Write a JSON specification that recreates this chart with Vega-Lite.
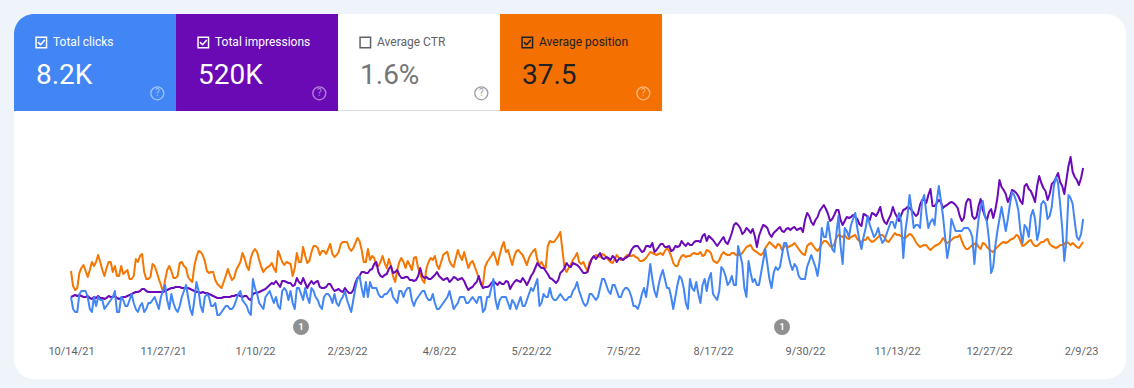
{
"$schema":"https://vega.github.io/schema/vega-lite/v6.json",
"width":1112,"height":365,
"autosize":{"type":"none"},
"padding":{"left":14,"top":14,"right":8,"bottom":9},
"background":"#eff3fa",
"config":{"view":{"stroke":null,"fill":"#ffffff","cornerRadius":20},"font":"Roboto"},
"datasets":{
"tiles":[{"m":"Total clicks","v":"8.2K"},{"m":"Total impressions","v":"520K"},{"m":"Average CTR","v":"1.6%"},{"m":"Average position","v":"37.5"}],
"notes":[{"d":"2022-02-01","n":"1"},{"d":"2022-09-19","n":"1"}],
"ts":[
{"d":"2021-10-14","c":11,"i":480,"p":41.5},{"d":"2021-10-15","c":7,"i":490,"p":45.25},{"d":"2021-10-16","c":6,"i":500,"p":46.25},{"d":"2021-10-17","c":6,"i":490,"p":45.75},{"d":"2021-10-18","c":12,"i":500,"p":42},{"d":"2021-10-19","c":13,"i":490,"p":40.75},{"d":"2021-10-20","c":13,"i":480,"p":40},
{"d":"2021-10-21","c":13,"i":480,"p":41.5},{"d":"2021-10-22","c":11,"i":490,"p":43},{"d":"2021-10-23","c":7,"i":470,"p":41.25},{"d":"2021-10-24","c":6,"i":460,"p":39.25},{"d":"2021-10-25","c":11,"i":480,"p":40.25},{"d":"2021-10-26","c":8,"i":470,"p":39.25},{"d":"2021-10-27","c":11,"i":490,"p":37.5},
{"d":"2021-10-28","c":10,"i":470,"p":39.25},{"d":"2021-10-29","c":10,"i":470,"p":41.25},{"d":"2021-10-30","c":7,"i":460,"p":42.75},{"d":"2021-10-31","c":8,"i":470,"p":40.75},{"d":"2021-11-01","c":9,"i":490,"p":39.25},{"d":"2021-11-02","c":10,"i":480,"p":39.25},{"d":"2021-11-03","c":11,"i":480,"p":41.75},
{"d":"2021-11-04","c":13,"i":490,"p":40.25},{"d":"2021-11-05","c":6,"i":470,"p":42.75},{"d":"2021-11-06","c":6,"i":460,"p":42.75},{"d":"2021-11-07","c":11,"i":470,"p":40.25},{"d":"2021-11-08","c":10,"i":480,"p":42.25},{"d":"2021-11-09","c":8,"i":480,"p":41.75},{"d":"2021-11-10","c":8,"i":490,"p":41.25},
{"d":"2021-11-11","c":10,"i":500,"p":43.5},{"d":"2021-11-12","c":12,"i":510,"p":43.5},{"d":"2021-11-13","c":9,"i":520,"p":42.75},{"d":"2021-11-14","c":7,"i":530,"p":38.5},{"d":"2021-11-15","c":6,"i":530,"p":39.25},{"d":"2021-11-16","c":8,"i":540,"p":37.75},{"d":"2021-11-17","c":9,"i":560,"p":37.25},
{"d":"2021-11-18","c":6,"i":560,"p":41.75},{"d":"2021-11-19","c":7,"i":540,"p":43.5},{"d":"2021-11-20","c":9,"i":530,"p":43.5},{"d":"2021-11-21","c":9,"i":530,"p":43},{"d":"2021-11-22","c":10,"i":530,"p":39.75},{"d":"2021-11-23","c":11,"i":530,"p":40.25},{"d":"2021-11-24","c":9,"i":530,"p":41.75},
{"d":"2021-11-25","c":7,"i":530,"p":43.5},{"d":"2021-11-26","c":11,"i":530,"p":45},{"d":"2021-11-27","c":13,"i":530,"p":46.75},{"d":"2021-11-28","c":15,"i":540,"p":43.75},{"d":"2021-11-29","c":10,"i":550,"p":41.25},{"d":"2021-11-30","c":7,"i":560,"p":40.25},{"d":"2021-12-01","c":12,"i":570,"p":41.5},
{"d":"2021-12-02","c":9,"i":570,"p":43.25},{"d":"2021-12-03","c":7,"i":580,"p":43.25},{"d":"2021-12-04","c":6,"i":580,"p":42.75},{"d":"2021-12-05","c":8,"i":580,"p":39.5},{"d":"2021-12-06","c":11,"i":570,"p":39.25},{"d":"2021-12-07","c":13,"i":570,"p":40.25},{"d":"2021-12-08","c":15,"i":570,"p":40.75},
{"d":"2021-12-09","c":11,"i":570,"p":43},{"d":"2021-12-10","c":7,"i":560,"p":43.75},{"d":"2021-12-11","c":5,"i":550,"p":44.25},{"d":"2021-12-12","c":10,"i":540,"p":40.25},{"d":"2021-12-13","c":16,"i":530,"p":38},{"d":"2021-12-14","c":13,"i":530,"p":36.5},{"d":"2021-12-15","c":8,"i":520,"p":36.75},
{"d":"2021-12-16","c":6,"i":530,"p":37.5},{"d":"2021-12-17","c":11,"i":520,"p":39},{"d":"2021-12-18","c":12,"i":520,"p":41.5},{"d":"2021-12-19","c":11,"i":510,"p":42},{"d":"2021-12-20","c":8,"i":500,"p":41.75},{"d":"2021-12-21","c":8,"i":490,"p":41.75},{"d":"2021-12-22","c":9,"i":480,"p":43.75},
{"d":"2021-12-23","c":5,"i":470,"p":44.75},{"d":"2021-12-24","c":5,"i":470,"p":45.25},{"d":"2021-12-25","c":6,"i":470,"p":45.75},{"d":"2021-12-26","c":7,"i":480,"p":44.25},{"d":"2021-12-27","c":8,"i":480,"p":42.75},{"d":"2021-12-28","c":8,"i":480,"p":41},{"d":"2021-12-29","c":7,"i":480,"p":42.5},
{"d":"2021-12-30","c":7,"i":490,"p":43.75},{"d":"2021-12-31","c":8,"i":490,"p":43.25},{"d":"2022-01-01","c":10,"i":500,"p":41.25},{"d":"2022-01-02","c":12,"i":500,"p":40.25},{"d":"2022-01-03","c":13,"i":490,"p":39.25},{"d":"2022-01-04","c":10,"i":480,"p":37},{"d":"2022-01-05","c":9,"i":490,"p":38.25},
{"d":"2022-01-06","c":8,"i":490,"p":40.25},{"d":"2022-01-07","c":6,"i":460,"p":41.25},{"d":"2022-01-08","c":5,"i":450,"p":38.25},{"d":"2022-01-09","c":17,"i":510,"p":36.75},{"d":"2022-01-10","c":14,"i":520,"p":36},{"d":"2022-01-11","c":12,"i":520,"p":36.75},{"d":"2022-01-12","c":9,"i":530,"p":38.75},
{"d":"2022-01-13","c":8,"i":540,"p":40.5},{"d":"2022-01-14","c":7,"i":550,"p":41.75},{"d":"2022-01-15","c":11,"i":560,"p":41},{"d":"2022-01-16","c":12,"i":580,"p":40.5},{"d":"2022-01-17","c":13,"i":600,"p":40.25},{"d":"2022-01-18","c":11,"i":620,"p":39.5},{"d":"2022-01-19","c":9,"i":610,"p":40.75},
{"d":"2022-01-20","c":11,"i":640,"p":41.75},{"d":"2022-01-21","c":8,"i":610,"p":36.5},{"d":"2022-01-22","c":7,"i":580,"p":37.75},{"d":"2022-01-23","c":13,"i":640,"p":39.25},{"d":"2022-01-24","c":14,"i":640,"p":40},{"d":"2022-01-25","c":13,"i":630,"p":39.25},{"d":"2022-01-26","c":10,"i":620,"p":39.5},
{"d":"2022-01-27","c":13,"i":620,"p":39.75},{"d":"2022-01-28","c":9,"i":590,"p":42.75},{"d":"2022-01-29","c":7,"i":600,"p":40.75},{"d":"2022-01-30","c":14,"i":670,"p":37},{"d":"2022-01-31","c":14,"i":630,"p":39.25},{"d":"2022-02-01","c":12,"i":610,"p":39.25},{"d":"2022-02-02","c":10,"i":670,"p":35.5},
{"d":"2022-02-03","c":14,"i":620,"p":37.75},{"d":"2022-02-04","c":11,"i":570,"p":39.5},{"d":"2022-02-05","c":9,"i":610,"p":39},{"d":"2022-02-06","c":14,"i":640,"p":36.75},{"d":"2022-02-07","c":13,"i":610,"p":35.25},{"d":"2022-02-08","c":11,"i":630,"p":35.25},{"d":"2022-02-09","c":10,"i":640,"p":35.75},
{"d":"2022-02-10","c":8,"i":580,"p":37.5},{"d":"2022-02-11","c":7,"i":570,"p":36.5},{"d":"2022-02-12","c":11,"i":570,"p":36.5},{"d":"2022-02-13","c":12,"i":580,"p":37.25},{"d":"2022-02-14","c":12,"i":610,"p":36},{"d":"2022-02-15","c":11,"i":610,"p":34.75},{"d":"2022-02-16","c":9,"i":570,"p":37.25},
{"d":"2022-02-17","c":12,"i":540,"p":38},{"d":"2022-02-18","c":9,"i":550,"p":37.5},{"d":"2022-02-19","c":8,"i":560,"p":36.75},{"d":"2022-02-20","c":10,"i":540,"p":34.75},{"d":"2022-02-21","c":11,"i":530,"p":34.25},{"d":"2022-02-22","c":13,"i":570,"p":34.25},{"d":"2022-02-23","c":10,"i":540,"p":34.25},
{"d":"2022-02-24","c":8,"i":520,"p":35.75},{"d":"2022-02-25","c":6,"i":520,"p":36.5},{"d":"2022-02-26","c":10,"i":550,"p":35.75},{"d":"2022-02-27","c":14,"i":620,"p":34.5},{"d":"2022-02-28","c":17,"i":670,"p":33.25},{"d":"2022-03-01","c":18,"i":690,"p":34},{"d":"2022-03-02","c":14,"i":730,"p":36.25},
{"d":"2022-03-03","c":11,"i":730,"p":39.25},{"d":"2022-03-04","c":16,"i":720,"p":39.25},{"d":"2022-03-05","c":11,"i":720,"p":36},{"d":"2022-03-06","c":16,"i":750,"p":38.75},{"d":"2022-03-07","c":14,"i":760,"p":37.75},{"d":"2022-03-08","c":14,"i":810,"p":38.25},{"d":"2022-03-09","c":14,"i":830,"p":40.25},
{"d":"2022-03-10","c":12,"i":730,"p":40.25},{"d":"2022-03-11","c":11,"i":690,"p":39.25},{"d":"2022-03-12","c":11,"i":680,"p":37.75},{"d":"2022-03-13","c":12,"i":700,"p":39.5},{"d":"2022-03-14","c":12,"i":710,"p":40.75},{"d":"2022-03-15","c":13,"i":760,"p":38.5},{"d":"2022-03-16","c":14,"i":790,"p":40.25},
{"d":"2022-03-17","c":11,"i":720,"p":42.75},{"d":"2022-03-18","c":10,"i":730,"p":44.25},{"d":"2022-03-19","c":9,"i":750,"p":41.25},{"d":"2022-03-20","c":13,"i":700,"p":39.25},{"d":"2022-03-21","c":13,"i":670,"p":38.25},{"d":"2022-03-22","c":11,"i":670,"p":39.25},{"d":"2022-03-23","c":13,"i":680,"p":40.75},
{"d":"2022-03-24","c":14,"i":680,"p":39},{"d":"2022-03-25","c":14,"i":650,"p":40},{"d":"2022-03-26","c":10,"i":650,"p":41.25},{"d":"2022-03-27","c":8,"i":640,"p":38.25},{"d":"2022-03-28","c":10,"i":650,"p":38},{"d":"2022-03-29","c":11,"i":690,"p":40.75},{"d":"2022-03-30","c":12,"i":770,"p":42.25},
{"d":"2022-03-31","c":13,"i":690,"p":43.75},{"d":"2022-04-01","c":13,"i":670,"p":44.5},{"d":"2022-04-02","c":11,"i":680,"p":40.75},{"d":"2022-04-03","c":10,"i":660,"p":39.25},{"d":"2022-04-04","c":10,"i":660,"p":38.25},{"d":"2022-04-05","c":12,"i":680,"p":38.75},{"d":"2022-04-06","c":9,"i":700,"p":37.75},
{"d":"2022-04-07","c":7,"i":730,"p":40},{"d":"2022-04-08","c":7,"i":690,"p":41},{"d":"2022-04-09","c":8,"i":670,"p":39.25},{"d":"2022-04-10","c":9,"i":650,"p":37.5},{"d":"2022-04-11","c":10,"i":660,"p":37},{"d":"2022-04-12","c":11,"i":670,"p":36.75},{"d":"2022-04-13","c":13,"i":630,"p":39},
{"d":"2022-04-14","c":10,"i":650,"p":40},{"d":"2022-04-15","c":7,"i":680,"p":40.5},{"d":"2022-04-16","c":8,"i":670,"p":38.25},{"d":"2022-04-17","c":9,"i":650,"p":36.25},{"d":"2022-04-18","c":11,"i":660,"p":37.75},{"d":"2022-04-19","c":11,"i":670,"p":38.75},{"d":"2022-04-20","c":11,"i":640,"p":36.75},
{"d":"2022-04-21","c":9,"i":590,"p":38.75},{"d":"2022-04-22","c":9,"i":550,"p":40.75},{"d":"2022-04-23","c":10,"i":570,"p":39.5},{"d":"2022-04-24","c":11,"i":580,"p":39},{"d":"2022-04-25","c":10,"i":610,"p":40.25},{"d":"2022-04-26","c":9,"i":630,"p":41.75},{"d":"2022-04-27","c":11,"i":690,"p":43.25},
{"d":"2022-04-28","c":11,"i":610,"p":44.25},{"d":"2022-04-29","c":6,"i":570,"p":45},{"d":"2022-04-30","c":7,"i":580,"p":40.5},{"d":"2022-05-01","c":11,"i":580,"p":39.25},{"d":"2022-05-02","c":11,"i":590,"p":38.5},{"d":"2022-05-03","c":14,"i":620,"p":37.75},{"d":"2022-05-04","c":17,"i":640,"p":36.75},
{"d":"2022-05-05","c":10,"i":620,"p":38.25},{"d":"2022-05-06","c":7,"i":600,"p":40},{"d":"2022-05-07","c":10,"i":630,"p":37.5},{"d":"2022-05-08","c":11,"i":610,"p":35.5},{"d":"2022-05-09","c":11,"i":610,"p":34.25},{"d":"2022-05-10","c":11,"i":640,"p":36.75},{"d":"2022-05-11","c":9,"i":630,"p":36.25},
{"d":"2022-05-12","c":7,"i":560,"p":38.25},{"d":"2022-05-13","c":10,"i":600,"p":40},{"d":"2022-05-14","c":9,"i":630,"p":37.75},{"d":"2022-05-15","c":7,"i":650,"p":36.5},{"d":"2022-05-16","c":9,"i":640,"p":36.25},{"d":"2022-05-17","c":11,"i":630,"p":37},{"d":"2022-05-18","c":8,"i":670,"p":37.5},
{"d":"2022-05-19","c":8,"i":640,"p":38.75},{"d":"2022-05-20","c":10,"i":600,"p":40},{"d":"2022-05-21","c":12,"i":640,"p":38.25},{"d":"2022-05-22","c":14,"i":690,"p":37.25},{"d":"2022-05-23","c":13,"i":720,"p":36.5},{"d":"2022-05-24","c":15,"i":770,"p":36},{"d":"2022-05-25","c":17,"i":820,"p":38.75},
{"d":"2022-05-26","c":8,"i":790,"p":40},{"d":"2022-05-27","c":9,"i":770,"p":39.25},{"d":"2022-05-28","c":12,"i":770,"p":40.25},{"d":"2022-05-29","c":11,"i":740,"p":40.75},{"d":"2022-05-30","c":11,"i":710,"p":35.25},{"d":"2022-05-31","c":14,"i":670,"p":34},{"d":"2022-06-01","c":11,"i":660,"p":34.25},
{"d":"2022-06-02","c":10,"i":640,"p":34.25},{"d":"2022-06-03","c":10,"i":620,"p":33.5},{"d":"2022-06-04","c":11,"i":650,"p":32.75},{"d":"2022-06-05","c":12,"i":720,"p":31.75},{"d":"2022-06-06","c":11,"i":740,"p":36.25},{"d":"2022-06-07","c":10,"i":770,"p":40.75},{"d":"2022-06-08","c":10,"i":820,"p":41.75},
{"d":"2022-06-09","c":11,"i":790,"p":40.75},{"d":"2022-06-10","c":11,"i":780,"p":40},{"d":"2022-06-11","c":13,"i":820,"p":38.75},{"d":"2022-06-12","c":14,"i":810,"p":38},{"d":"2022-06-13","c":16,"i":800,"p":37},{"d":"2022-06-14","c":13,"i":780,"p":39.25},{"d":"2022-06-15","c":11,"i":750,"p":39.75},
{"d":"2022-06-16","c":9,"i":720,"p":39.25},{"d":"2022-06-17","c":8,"i":720,"p":40.5},{"d":"2022-06-18","c":9,"i":730,"p":41.5},{"d":"2022-06-19","c":12,"i":800,"p":39.25},{"d":"2022-06-20","c":12,"i":860,"p":38.5},{"d":"2022-06-21","c":11,"i":890,"p":38},{"d":"2022-06-22","c":10,"i":860,"p":37.5},
{"d":"2022-06-23","c":11,"i":890,"p":37.75},{"d":"2022-06-24","c":14,"i":920,"p":38},{"d":"2022-06-25","c":17,"i":870,"p":37.25},{"d":"2022-06-26","c":17,"i":860,"p":37.5},{"d":"2022-06-27","c":15,"i":880,"p":38},{"d":"2022-06-28","c":13,"i":870,"p":38.75},{"d":"2022-06-29","c":12,"i":850,"p":39.25},
{"d":"2022-06-30","c":15,"i":890,"p":39.5},{"d":"2022-07-01","c":15,"i":870,"p":38.5},{"d":"2022-07-02","c":13,"i":830,"p":37.5},{"d":"2022-07-03","c":11,"i":860,"p":38.25},{"d":"2022-07-04","c":11,"i":870,"p":38.75},{"d":"2022-07-05","c":13,"i":850,"p":38.75},{"d":"2022-07-06","c":14,"i":870,"p":38},
{"d":"2022-07-07","c":14,"i":880,"p":37.5},{"d":"2022-07-08","c":13,"i":900,"p":37.75},{"d":"2022-07-09","c":11,"i":950,"p":37.75},{"d":"2022-07-10","c":8,"i":980,"p":37.5},{"d":"2022-07-11","c":8,"i":990,"p":38},{"d":"2022-07-12","c":7,"i":990,"p":38.25},{"d":"2022-07-13","c":9,"i":960,"p":39},
{"d":"2022-07-14","c":12,"i":930,"p":39},{"d":"2022-07-15","c":14,"i":940,"p":38.75},{"d":"2022-07-16","c":11,"i":990,"p":38.25},{"d":"2022-07-17","c":16,"i":990,"p":37.5},{"d":"2022-07-18","c":22,"i":980,"p":36.75},{"d":"2022-07-19","c":17,"i":1020,"p":37},{"d":"2022-07-20","c":13,"i":930,"p":37.25},
{"d":"2022-07-21","c":11,"i":950,"p":37.5},{"d":"2022-07-22","c":15,"i":980,"p":37.25},{"d":"2022-07-23","c":18,"i":1010,"p":37},{"d":"2022-07-24","c":20,"i":1010,"p":37.5},{"d":"2022-07-25","c":17,"i":980,"p":36.5},{"d":"2022-07-26","c":14,"i":980,"p":35.75},{"d":"2022-07-27","c":14,"i":990,"p":36.5},
{"d":"2022-07-28","c":11,"i":940,"p":37.75},{"d":"2022-07-29","c":7,"i":950,"p":39.5},{"d":"2022-07-30","c":11,"i":990,"p":40.25},{"d":"2022-07-31","c":15,"i":980,"p":40.25},{"d":"2022-08-01","c":18,"i":990,"p":38.75},{"d":"2022-08-02","c":17,"i":1040,"p":37.75},{"d":"2022-08-03","c":14,"i":1010,"p":37.5},
{"d":"2022-08-04","c":9,"i":990,"p":38},{"d":"2022-08-05","c":7,"i":1020,"p":37.75},{"d":"2022-08-06","c":17,"i":1000,"p":37.75},{"d":"2022-08-07","c":14,"i":1000,"p":37.25},{"d":"2022-08-08","c":13,"i":1030,"p":37},{"d":"2022-08-09","c":16,"i":1040,"p":37.25},{"d":"2022-08-10","c":12,"i":1040,"p":37.25},
{"d":"2022-08-11","c":9,"i":1030,"p":36.75},{"d":"2022-08-12","c":15,"i":1090,"p":37.75},{"d":"2022-08-13","c":17,"i":1110,"p":37.5},{"d":"2022-08-14","c":13,"i":1040,"p":36.25},{"d":"2022-08-15","c":17,"i":1090,"p":36.5},{"d":"2022-08-16","c":19,"i":1070,"p":37},{"d":"2022-08-17","c":12,"i":1050,"p":38.75},
{"d":"2022-08-18","c":11,"i":1020,"p":39.25},{"d":"2022-08-19","c":10,"i":990,"p":39.5},{"d":"2022-08-20","c":13,"i":1020,"p":38.75},{"d":"2022-08-21","c":21,"i":1050,"p":37.5},{"d":"2022-08-22","c":20,"i":1080,"p":36.75},{"d":"2022-08-23","c":18,"i":1030,"p":37.25},{"d":"2022-08-24","c":15,"i":1010,"p":37.5},
{"d":"2022-08-25","c":16,"i":1060,"p":37.5},{"d":"2022-08-26","c":18,"i":1120,"p":37},{"d":"2022-08-27","c":15,"i":1200,"p":37},{"d":"2022-08-28","c":15,"i":1220,"p":37.5},{"d":"2022-08-29","c":28,"i":1200,"p":37.5},{"d":"2022-08-30","c":25,"i":1170,"p":37.5},{"d":"2022-08-31","c":22,"i":1110,"p":37},
{"d":"2022-09-01","c":14,"i":1130,"p":36.25},{"d":"2022-09-02","c":11,"i":1170,"p":35.5},{"d":"2022-09-03","c":23,"i":1150,"p":35.25},{"d":"2022-09-04","c":19,"i":1120,"p":35},{"d":"2022-09-05","c":16,"i":1160,"p":36},{"d":"2022-09-06","c":17,"i":1090,"p":36.5},{"d":"2022-09-07","c":15,"i":980,"p":36.75},
{"d":"2022-09-08","c":15,"i":1090,"p":37.25},{"d":"2022-09-09","c":19,"i":1150,"p":37.5},{"d":"2022-09-10","c":23,"i":1200,"p":37},{"d":"2022-09-11","c":27,"i":1190,"p":35.75},{"d":"2022-09-12","c":22,"i":1170,"p":35},{"d":"2022-09-13","c":17,"i":1110,"p":34.25},{"d":"2022-09-14","c":14,"i":1080,"p":34.75},
{"d":"2022-09-15","c":19,"i":1120,"p":35.25},{"d":"2022-09-16","c":21,"i":1140,"p":35.75},{"d":"2022-09-17","c":20,"i":1160,"p":34.75},{"d":"2022-09-18","c":21,"i":1180,"p":35},{"d":"2022-09-19","c":25,"i":1140,"p":36.25},{"d":"2022-09-20","c":29,"i":1130,"p":35.5},{"d":"2022-09-21","c":29,"i":1160,"p":35},
{"d":"2022-09-22","c":25,"i":1170,"p":35.5},{"d":"2022-09-23","c":22,"i":1150,"p":35.25},{"d":"2022-09-24","c":20,"i":1170,"p":35},{"d":"2022-09-25","c":22,"i":1180,"p":34.5},{"d":"2022-09-26","c":21,"i":1150,"p":35.25},{"d":"2022-09-27","c":18,"i":1160,"p":36},{"d":"2022-09-28","c":17,"i":1170,"p":36.75},
{"d":"2022-09-29","c":17,"i":1130,"p":37.25},{"d":"2022-09-30","c":17,"i":1250,"p":37.5},{"d":"2022-10-01","c":21,"i":1320,"p":35.25},{"d":"2022-10-02","c":23,"i":1290,"p":34.75},{"d":"2022-10-03","c":25,"i":1230,"p":34.5},{"d":"2022-10-04","c":23,"i":1200,"p":35.25},{"d":"2022-10-05","c":21,"i":1250,"p":36},
{"d":"2022-10-06","c":18,"i":1280,"p":36.5},{"d":"2022-10-07","c":23,"i":1340,"p":35.75},{"d":"2022-10-08","c":34,"i":1370,"p":34.75},{"d":"2022-10-09","c":31,"i":1400,"p":34},{"d":"2022-10-10","c":31,"i":1360,"p":34},{"d":"2022-10-11","c":36,"i":1310,"p":34.5},{"d":"2022-10-12","c":31,"i":1240,"p":35.25},
{"d":"2022-10-13","c":27,"i":1260,"p":35.5},{"d":"2022-10-14","c":26,"i":1300,"p":34.75},{"d":"2022-10-15","c":32,"i":1350,"p":33.25},{"d":"2022-10-16","c":38,"i":1350,"p":32.5},{"d":"2022-10-17","c":28,"i":1250,"p":32.75},{"d":"2022-10-18","c":22,"i":1200,"p":33},{"d":"2022-10-19","c":34,"i":1240,"p":32.5},
{"d":"2022-10-20","c":33,"i":1280,"p":33.25},{"d":"2022-10-21","c":31,"i":1270,"p":33.5},{"d":"2022-10-22","c":35,"i":1280,"p":33},{"d":"2022-10-23","c":37,"i":1300,"p":32.75},{"d":"2022-10-24","c":39,"i":1280,"p":32.5},{"d":"2022-10-25","c":34,"i":1260,"p":33.5},{"d":"2022-10-26","c":30,"i":1210,"p":34},
{"d":"2022-10-27","c":27,"i":1190,"p":34.25},{"d":"2022-10-28","c":31,"i":1310,"p":33.75},{"d":"2022-10-29","c":34,"i":1300,"p":33.75},{"d":"2022-10-30","c":38,"i":1280,"p":33},{"d":"2022-10-31","c":35,"i":1250,"p":33.75},{"d":"2022-11-01","c":33,"i":1320,"p":34.25},{"d":"2022-11-02","c":31,"i":1310,"p":34},
{"d":"2022-11-03","c":32,"i":1290,"p":33.5},{"d":"2022-11-04","c":34,"i":1330,"p":33},{"d":"2022-11-05","c":31,"i":1380,"p":32.5},{"d":"2022-11-06","c":29,"i":1280,"p":32.5},{"d":"2022-11-07","c":30,"i":1230,"p":33},{"d":"2022-11-08","c":32,"i":1210,"p":34},{"d":"2022-11-09","c":34,"i":1260,"p":34.25},
{"d":"2022-11-10","c":36,"i":1300,"p":33.5},{"d":"2022-11-11","c":36,"i":1380,"p":32.75},{"d":"2022-11-12","c":34,"i":1320,"p":32},{"d":"2022-11-13","c":37,"i":1280,"p":32.5},{"d":"2022-11-14","c":39,"i":1240,"p":32.5},{"d":"2022-11-15","c":36,"i":1300,"p":32.75},{"d":"2022-11-16","c":24,"i":1350,"p":33.25},
{"d":"2022-11-17","c":33,"i":1360,"p":33.25},{"d":"2022-11-18","c":38,"i":1380,"p":32.75},{"d":"2022-11-19","c":45,"i":1370,"p":32.25},{"d":"2022-11-20","c":40,"i":1350,"p":32.5},{"d":"2022-11-21","c":34,"i":1320,"p":33.25},{"d":"2022-11-22","c":35,"i":1290,"p":34.25},{"d":"2022-11-23","c":35,"i":1310,"p":35},
{"d":"2022-11-24","c":34,"i":1400,"p":35.5},{"d":"2022-11-25","c":43,"i":1450,"p":35.25},{"d":"2022-11-26","c":45,"i":1450,"p":35},{"d":"2022-11-27","c":39,"i":1420,"p":35},{"d":"2022-11-28","c":34,"i":1500,"p":35.75},{"d":"2022-11-29","c":36,"i":1560,"p":36.25},{"d":"2022-11-30","c":37,"i":1390,"p":35.75},
{"d":"2022-12-01","c":35,"i":1390,"p":35.25},{"d":"2022-12-02","c":43,"i":1420,"p":35},{"d":"2022-12-03","c":48,"i":1450,"p":34.75},{"d":"2022-12-04","c":43,"i":1430,"p":34.25},{"d":"2022-12-05","c":38,"i":1370,"p":33.25},{"d":"2022-12-06","c":31,"i":1390,"p":34},{"d":"2022-12-07","c":24,"i":1400,"p":34.5},
{"d":"2022-12-08","c":28,"i":1420,"p":34.25},{"d":"2022-12-09","c":37,"i":1430,"p":33.75},{"d":"2022-12-10","c":35,"i":1420,"p":33.25},{"d":"2022-12-11","c":33,"i":1400,"p":33},{"d":"2022-12-12","c":33,"i":1370,"p":33},{"d":"2022-12-13","c":33,"i":1290,"p":32.5},{"d":"2022-12-14","c":33,"i":1240,"p":34},
{"d":"2022-12-15","c":34,"i":1270,"p":35.25},{"d":"2022-12-16","c":34,"i":1420,"p":36},{"d":"2022-12-17","c":34,"i":1460,"p":36},{"d":"2022-12-18","c":33,"i":1450,"p":35.5},{"d":"2022-12-19","c":31,"i":1290,"p":35},{"d":"2022-12-20","c":22,"i":1260,"p":34.75},{"d":"2022-12-21","c":30,"i":1280,"p":34.5},
{"d":"2022-12-22","c":37,"i":1390,"p":35.5},{"d":"2022-12-23","c":41,"i":1460,"p":36},{"d":"2022-12-24","c":43,"i":1350,"p":34.5},{"d":"2022-12-25","c":38,"i":1290,"p":34.75},{"d":"2022-12-26","c":36,"i":1250,"p":35.5},{"d":"2022-12-27","c":30,"i":1330,"p":36},{"d":"2022-12-28","c":19,"i":1360,"p":36.5},
{"d":"2022-12-29","c":21,"i":1270,"p":36.75},{"d":"2022-12-30","c":28,"i":1350,"p":36},{"d":"2022-12-31","c":33,"i":1470,"p":35.5},{"d":"2023-01-01","c":37,"i":1650,"p":35},{"d":"2023-01-02","c":41,"i":1580,"p":34.5},{"d":"2023-01-03","c":37,"i":1550,"p":34.25},{"d":"2023-01-04","c":33,"i":1510,"p":34.5},
{"d":"2023-01-05","c":37,"i":1430,"p":34.25},{"d":"2023-01-06","c":42,"i":1480,"p":33.75},{"d":"2023-01-07","c":46,"i":1550,"p":33.5},{"d":"2023-01-08","c":45,"i":1540,"p":33.25},{"d":"2023-01-09","c":43,"i":1520,"p":32.5},{"d":"2023-01-10","c":40,"i":1490,"p":32.75},{"d":"2023-01-11","c":33,"i":1440,"p":34},
{"d":"2023-01-12","c":29,"i":1410,"p":35.25},{"d":"2023-01-13","c":35,"i":1590,"p":35},{"d":"2023-01-14","c":34,"i":1610,"p":34.5},{"d":"2023-01-15","c":31,"i":1560,"p":34},{"d":"2023-01-16","c":38,"i":1540,"p":33.75},{"d":"2023-01-17","c":40,"i":1490,"p":34.75},{"d":"2023-01-18","c":37,"i":1430,"p":35.25},
{"d":"2023-01-19","c":30,"i":1590,"p":35.25},{"d":"2023-01-20","c":33,"i":1690,"p":34.75},{"d":"2023-01-21","c":42,"i":1620,"p":34.25},{"d":"2023-01-22","c":43,"i":1570,"p":34.25},{"d":"2023-01-23","c":42,"i":1540,"p":33.75},{"d":"2023-01-24","c":37,"i":1450,"p":33.5},{"d":"2023-01-25","c":38,"i":1510,"p":34.75},
{"d":"2023-01-26","c":41,"i":1610,"p":35.25},{"d":"2023-01-27","c":48,"i":1630,"p":35.5},{"d":"2023-01-28","c":51,"i":1670,"p":35.75},{"d":"2023-01-29","c":49,"i":1720,"p":35.5},{"d":"2023-01-30","c":42,"i":1630,"p":35},{"d":"2023-01-31","c":34,"i":1590,"p":35},{"d":"2023-02-01","c":23,"i":1510,"p":34.75},
{"d":"2023-02-02","c":30,"i":1650,"p":34.25},{"d":"2023-02-03","c":45,"i":1790,"p":34.5},{"d":"2023-02-04","c":44,"i":1880,"p":35},{"d":"2023-02-05","c":42,"i":1730,"p":34.5},{"d":"2023-02-06","c":36,"i":1680,"p":35},{"d":"2023-02-07","c":31,"i":1650,"p":35.5},{"d":"2023-02-08","c":30,"i":1600,"p":35.75},
{"d":"2023-02-09","c":32,"i":1670,"p":35},{"d":"2023-02-10","c":37,"i":1770,"p":34.25}
]},
"layer":[
{"data":{"name":"tiles"},"transform":[{"filter":"datum.m !== 'Total clicks'"}],
 "mark":{"type":"rect"},
 "encoding":{
  "x":{"field":"m","type":"nominal","scale":{"type":"band","domain":["Total clicks","Total impressions","Average CTR","Average position","_a","_b"],"paddingInner":0,"paddingOuter":0.432,"align":0},"axis":null},
  "y":{"datum":0,"type":"quantitative","scale":{"domain":[0,3.7629],"reverse":true,"nice":false,"zero":false},"axis":null},
  "y2":{"datum":1},
  "color":{"field":"m","type":"nominal","scale":{"domain":["Total clicks","Total impressions","Average CTR","Average position"],"range":["#4285f4","#690ab5","#ffffff","#f47000"]},"legend":null}}},
{"data":{"name":"tiles"},"transform":[{"filter":"datum.m === 'Total clicks'"}],
 "mark":{"type":"rect","cornerRadiusTopLeft":20,"color":"#4285f4"},
 "encoding":{
  "x":{"field":"m","type":"nominal","scale":{"type":"band","domain":["Total clicks","Total impressions","Average CTR","Average position","_a","_b"],"paddingInner":0,"paddingOuter":0.432,"align":0},"axis":null},
  "y":{"datum":0,"type":"quantitative","scale":{"domain":[0,3.7629],"reverse":true,"nice":false,"zero":false},"axis":null},
  "y2":{"datum":1}}},
{"data":{"name":"tiles"},"transform":[{"filter":"datum.m === 'Average CTR'"}],
 "mark":{"type":"rect","color":"#dadce0"},
 "encoding":{
  "x":{"field":"m","type":"nominal","scale":{"type":"band","domain":["Total clicks","Total impressions","Average CTR","Average position","_a","_b"],"paddingInner":0,"paddingOuter":0.432,"align":0},"axis":null},
  "y":{"datum":0.9897,"type":"quantitative","scale":{"domain":[0,3.7629],"reverse":true,"nice":false,"zero":false},"axis":null},
  "y2":{"datum":1}}},
{"data":{"name":"tiles"},
 "mark":{"type":"point","shape":"square","filled":false,"size":110,"strokeWidth":1.5,"opacity":1},
 "encoding":{
  "x":{"field":"m","type":"nominal","bandPosition":0.1685,"scale":{"type":"band","domain":["Total clicks","Total impressions","Average CTR","Average position","_a","_b"],"paddingInner":0,"paddingOuter":0.432,"align":0},"axis":null},
  "y":{"datum":0.2938,"type":"quantitative","scale":{"domain":[0,3.7629],"reverse":true,"nice":false,"zero":false},"axis":null},
  "color":{"field":"m","type":"nominal","scale":{"domain":["Total clicks","Total impressions","Average CTR","Average position"],"range":["#ffffff","#ffffff","#5f6368","#202124"]},"legend":null}}},
{"data":{"name":"tiles"},"transform":[{"filter":"datum.m !== 'Average CTR'"}],
 "mark":{"type":"point","shape":"M-0.55,0.02L-0.15,0.42L0.58,-0.4","filled":false,"size":110,"strokeWidth":1.5,"opacity":1,"strokeCap":"round","strokeJoin":"round"},
 "encoding":{
  "x":{"field":"m","type":"nominal","bandPosition":0.1685,"scale":{"type":"band","domain":["Total clicks","Total impressions","Average CTR","Average position","_a","_b"],"paddingInner":0,"paddingOuter":0.432,"align":0},"axis":null},
  "y":{"datum":0.2938,"type":"quantitative","scale":{"domain":[0,3.7629],"reverse":true,"nice":false,"zero":false},"axis":null},
  "color":{"field":"m","type":"nominal","scale":{"domain":["Total clicks","Total impressions","Average CTR","Average position"],"range":["#ffffff","#ffffff","#5f6368","#202124"]},"legend":null}}},
{"data":{"name":"tiles"},
 "mark":{"type":"text","align":"left","baseline":"alphabetic","dx":39,"dy":32,"fontSize":12,"font":"Roboto"},
 "encoding":{
  "x":{"field":"m","type":"nominal","bandPosition":0,"scale":{"type":"band","domain":["Total clicks","Total impressions","Average CTR","Average position","_a","_b"],"paddingInner":0,"paddingOuter":0.432,"align":0},"axis":null},
  "y":{"datum":0,"type":"quantitative","scale":{"domain":[0,3.7629],"reverse":true,"nice":false,"zero":false},"axis":null},
  "text":{"field":"m"},
  "color":{"field":"m","type":"nominal","scale":{"domain":["Total clicks","Total impressions","Average CTR","Average position"],"range":["#ffffff","#ffffff","#5f6368","#202124"]},"legend":null}}},
{"data":{"name":"tiles"},
 "mark":{"type":"text","align":"left","baseline":"alphabetic","dx":22,"dy":70,"fontSize":28,"font":"Roboto"},
 "encoding":{
  "x":{"field":"m","type":"nominal","bandPosition":0,"scale":{"type":"band","domain":["Total clicks","Total impressions","Average CTR","Average position","_a","_b"],"paddingInner":0,"paddingOuter":0.432,"align":0},"axis":null},
  "y":{"datum":0,"type":"quantitative","scale":{"domain":[0,3.7629],"reverse":true,"nice":false,"zero":false},"axis":null},
  "text":{"field":"v"},
  "color":{"field":"m","type":"nominal","scale":{"domain":["Total clicks","Total impressions","Average CTR","Average position"],"range":["#ffffff","#ffffff","#757575","#202124"]},"legend":null}}},
{"data":{"name":"tiles"},
 "mark":{"type":"point","shape":"circle","filled":false,"size":169,"strokeWidth":1.3,"opacity":1},
 "encoding":{
  "x":{"field":"m","type":"nominal","bandPosition":0.8846,"scale":{"type":"band","domain":["Total clicks","Total impressions","Average CTR","Average position","_a","_b"],"paddingInner":0,"paddingOuter":0.432,"align":0},"axis":null},
  "y":{"datum":0.8175,"type":"quantitative","scale":{"domain":[0,3.7629],"reverse":true,"nice":false,"zero":false},"axis":null},
  "color":{"field":"m","type":"nominal","scale":{"domain":["Total clicks","Total impressions","Average CTR","Average position"],"range":["rgba(255,255,255,0.5)","rgba(255,255,255,0.5)","#9aa0a6","rgba(255,255,255,0.5)"]},"legend":null}}},
{"data":{"name":"tiles"},
 "mark":{"type":"text","align":"center","baseline":"middle","fontSize":10,"font":"Roboto","text":"?"},
 "encoding":{
  "x":{"field":"m","type":"nominal","bandPosition":0.8846,"scale":{"type":"band","domain":["Total clicks","Total impressions","Average CTR","Average position","_a","_b"],"paddingInner":0,"paddingOuter":0.432,"align":0},"axis":null},
  "y":{"datum":0.8175,"type":"quantitative","scale":{"domain":[0,3.7629],"reverse":true,"nice":false,"zero":false},"axis":null},
  "color":{"field":"m","type":"nominal","scale":{"domain":["Total clicks","Total impressions","Average CTR","Average position"],"range":["rgba(255,255,255,0.5)","rgba(255,255,255,0.5)","#9aa0a6","rgba(255,255,255,0.5)"]},"legend":null}}},
{"data":{"name":"ts"},
 "mark":{"type":"line","color":"#f57600","strokeWidth":2,"strokeJoin":"round"},
 "encoding":{
  "x":{"field":"d","type":"temporal","scale":{"type":"utc","domain":[{"year":2021,"month":9,"date":16,"hours":18,"utc":true},{"year":2023,"month":3,"date":2,"hours":12,"utc":true}],"nice":false},"axis":null},
  "y":{"field":"p","type":"quantitative","scale":{"domain":[-22.75,68.5],"reverse":true,"nice":false,"zero":false},"axis":null}}},
{"data":{"name":"ts"},
 "mark":{"type":"line","color":"#6b0ab8","strokeWidth":2,"strokeJoin":"round"},
 "encoding":{
  "x":{"field":"d","type":"temporal","scale":{"type":"utc","domain":[{"year":2021,"month":9,"date":16,"hours":18,"utc":true},{"year":2023,"month":3,"date":2,"hours":12,"utc":true}],"nice":false},"axis":null},
  "y":{"field":"i","type":"quantitative","scale":{"domain":[-340,3310],"nice":false,"zero":false},"axis":null}}},
{"data":{"name":"ts"},
 "mark":{"type":"line","color":"#4285f4","strokeWidth":2,"strokeJoin":"round"},
 "encoding":{
  "x":{"field":"d","type":"temporal","scale":{"type":"utc","domain":[{"year":2021,"month":9,"date":16,"hours":18,"utc":true},{"year":2023,"month":3,"date":2,"hours":12,"utc":true}],"nice":false},
   "axis":{"values":[{"year":2021,"month":10,"date":14,"utc":true},{"year":2021,"month":11,"date":27,"utc":true},{"year":2022,"month":1,"date":10,"utc":true},{"year":2022,"month":2,"date":23,"utc":true},{"year":2022,"month":4,"date":8,"utc":true},{"year":2022,"month":5,"date":22,"utc":true},{"year":2022,"month":7,"date":5,"utc":true},{"year":2022,"month":8,"date":17,"utc":true},{"year":2022,"month":9,"date":30,"utc":true},{"year":2022,"month":11,"date":13,"utc":true},{"year":2022,"month":12,"date":27,"utc":true},{"year":2023,"month":2,"date":9,"utc":true}],
    "format":"%-m/%-d/%y","labelFont":"Roboto","labelFontSize":11,"labelColor":"#5f6368","domain":false,"ticks":false,"grid":false,"labelPadding":0,"labelBaseline":"middle","offset":-28,"title":null,"labelFlush":false,"labelOverlap":false}},
  "y":{"field":"c","type":"quantitative","scale":{"domain":[-16.333,105.333],"nice":false,"zero":false},"axis":null}}},
{"data":{"name":"notes"},
 "mark":{"type":"point","shape":"circle","filled":true,"size":256,"color":"#909090","opacity":1},
 "encoding":{
  "x":{"field":"d","type":"temporal","scale":{"type":"utc","domain":[{"year":2021,"month":9,"date":16,"hours":18,"utc":true},{"year":2023,"month":3,"date":2,"hours":12,"utc":true}],"nice":false},"axis":null},
  "y":{"datum":1,"type":"quantitative","scale":{"domain":[-16.333,105.333],"nice":false,"zero":false},"axis":null}}},
{"data":{"name":"notes"},
 "mark":{"type":"text","align":"center","baseline":"middle","fontSize":9,"font":"Roboto","fontWeight":"bold","color":"#ffffff"},
 "encoding":{
  "x":{"field":"d","type":"temporal","scale":{"type":"utc","domain":[{"year":2021,"month":9,"date":16,"hours":18,"utc":true},{"year":2023,"month":3,"date":2,"hours":12,"utc":true}],"nice":false},"axis":null},
  "y":{"datum":1,"type":"quantitative","scale":{"domain":[-16.333,105.333],"nice":false,"zero":false},"axis":null},
  "text":{"field":"n"}}}
],
"resolve":{"scale":{"x":"independent","y":"independent","color":"independent"}}
}
